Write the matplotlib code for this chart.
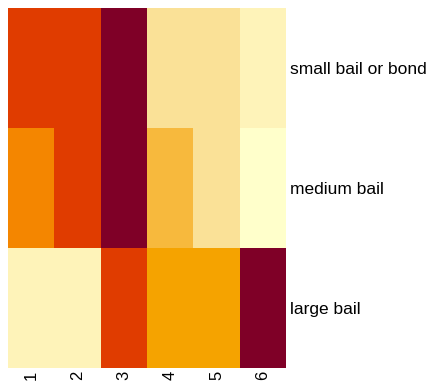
import matplotlib
matplotlib.use("Agg")
import matplotlib.pyplot as plt
from matplotlib.colors import ListedColormap, BoundaryNorm
import numpy as np

rows = ["small bail or bond", "medium bail", "large bail"]
cols = ["1", "2", "3", "4", "5", "6"]
small_bail = [6, 6, 7, 2, 2, 1]
medium_bail = [5, 6, 7, 3, 2, 0]
large_bail = [1, 1, 6, 4, 4, 7]
palette = ["#FFFFCB", "#FEF3B9", "#FAE197", "#F7B93D",
           "#F5A300", "#F48600", "#E03C00", "#7F0027"]

data = np.array([small_bail, medium_bail, large_bail])
cmap = ListedColormap(palette)
norm = BoundaryNorm(np.arange(-0.5, len(palette) + 0.5, 1), cmap.N)

plt.rcParams['font.family'] = ['Liberation Sans', 'DejaVu Sans']
fig = plt.figure(figsize=(4.29, 3.84), dpi=100)
W, H = 429, 384
ax = fig.add_axes([8 / W, 1 - 368 / H, 278 / W, 360 / H])
ax.pcolormesh(data, cmap=cmap, norm=norm)
ax.set_xlim(0, 6)
ax.set_ylim(3, 0)
for s in ax.spines.values():
    s.set_visible(False)
ax.set_xticks(np.arange(len(cols)) + 0.5)
ax.set_xticklabels(cols, rotation=90, fontsize=12)
ax.set_yticks(np.arange(len(rows)) + 0.5)
ax.set_yticklabels(rows, fontsize=12.5)
ax.yaxis.tick_right()
ax.tick_params(axis='x', length=0, pad=2)
ax.tick_params(axis='y', length=0, pad=3)
fig.savefig("out.png", dpi=100)
